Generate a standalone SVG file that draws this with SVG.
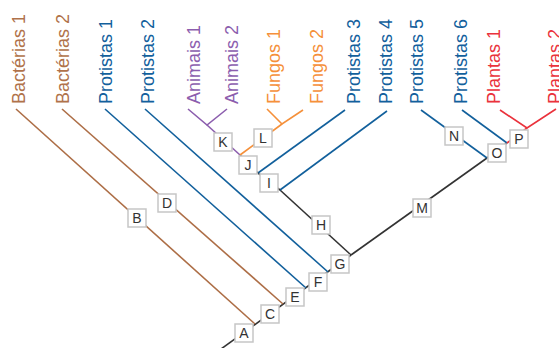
<svg xmlns="http://www.w3.org/2000/svg" width="559" height="348" viewBox="0 0 559 348">
  <style>
    .lbl { font-family: "Liberation Sans", Arial, sans-serif; font-size: 18px; }
    .bac { fill: #b0724a; }
    .pro { fill: #12609c; }
    .ani { fill: #8c5eae; }
    .fun { fill: #f5903a; }
    .pla { fill: #ea323c; }
    .e { fill: none; stroke-width: 1.6; stroke-linecap: butt; }
    .k { stroke: #333333; }
    .b { stroke: #ad6e46; }
    .p { stroke: #12609c; }
    .a { stroke: #8c5eae; }
    .f { stroke: #f5903a; }
    .r { stroke: #ea323c; }
    .node rect { fill: #ffffff; stroke: #c6c6c6; stroke-width: 1.5; }
    .node text { font-family: "Liberation Sans", Arial, sans-serif; font-size: 14px; fill: #333333; text-anchor: middle; }
  </style>
  <rect width="559" height="348" fill="#ffffff"/>

  <!-- taxon labels, written bottom-to-top -->
  <g id="taxa" class="lbl">
    <text class="bac" transform="translate(25,104) rotate(-90)">Bactérias 1</text>
    <text class="bac" transform="translate(69,104) rotate(-90)">Bactérias 2</text>
    <text class="pro" transform="translate(112,104) rotate(-90)">Protistas 1</text>
    <text class="pro" transform="translate(154,104) rotate(-90)">Protistas 2</text>
    <text class="ani" transform="translate(200,104) rotate(-90)">Animais 1</text>
    <text class="ani" transform="translate(238,104) rotate(-90)">Animais 2</text>
    <text class="fun" transform="translate(280,104) rotate(-90)">Fungos 1</text>
    <text class="fun" transform="translate(323,104) rotate(-90)">Fungos 2</text>
    <text class="pro" transform="translate(360,104) rotate(-90)">Protistas 3</text>
    <text class="pro" transform="translate(392,104) rotate(-90)">Protistas 4</text>
    <text class="pro" transform="translate(423,104) rotate(-90)">Protistas 5</text>
    <text class="pro" transform="translate(467,104) rotate(-90)">Protistas 6</text>
    <text class="pla" transform="translate(500,104) rotate(-90)">Plantas 1</text>
    <text class="pla" transform="translate(561,104) rotate(-90)">Plantas 2</text>
  </g>

  <!-- branches of the tree -->
  <g id="connectors" class="e">
    <line class="e k" x1="221" y1="349" x2="351" y2="255"/>
    <line class="e b" x1="16" y1="109" x2="255" y2="324"/>
    <line class="e b" x1="62" y1="109" x2="283" y2="304"/>
    <line class="e p" x1="105" y1="109" x2="306" y2="288"/>
    <line class="e p" x1="145" y1="109" x2="328" y2="272"/>
    <line class="e k" x1="351" y1="255" x2="280" y2="190"/>
    <line class="e p" x1="280" y1="190" x2="387" y2="111"/>
    <line class="e k" x1="280" y1="190" x2="258" y2="173"/>
    <line class="e p" x1="258" y1="173" x2="345" y2="110"/>
    <line class="e k" x1="258" y1="173" x2="240" y2="155"/>
    <line class="e a" x1="240" y1="155" x2="207" y2="125"/>
    <polyline class="e a" points="188,109 207,125 227,109"/>
    <line class="e f" x1="240" y1="155" x2="282" y2="124"/>
    <polyline class="e f" points="267,109 282,124 303,110"/>
    <line class="e k" x1="351" y1="255" x2="487" y2="158"/>
    <line class="e p" x1="421" y1="110" x2="487" y2="158"/>
    <line class="e k" x1="487" y1="158" x2="507" y2="143"/>
    <line class="e p" x1="462" y1="110" x2="507" y2="143"/>
    <line class="e r" x1="507" y1="143" x2="527" y2="128"/>
    <polyline class="e r" points="500,110 527,128 556,109"/>
  </g>

  <!-- clade markers -->
  <g id="node-A" class="node"><rect x="235" y="324" width="18" height="18"/><text x="244" y="338">A</text></g>
  <g id="node-B" class="node"><rect x="128" y="209" width="18" height="18"/><text x="137" y="223">B</text></g>
  <g id="node-C" class="node"><rect x="261" y="305" width="18" height="18"/><text x="270" y="319">C</text></g>
  <g id="node-D" class="node"><rect x="158" y="194" width="18" height="18"/><text x="167" y="208">D</text></g>
  <g id="node-E" class="node"><rect x="286" y="288" width="18" height="18"/><text x="295" y="302">E</text></g>
  <g id="node-F" class="node"><rect x="309" y="273" width="18" height="18"/><text x="318" y="287">F</text></g>
  <g id="node-G" class="node"><rect x="331" y="255" width="18" height="18"/><text x="340" y="269">G</text></g>
  <g id="node-H" class="node"><rect x="312" y="216" width="18" height="18"/><text x="321" y="230">H</text></g>
  <g id="node-I" class="node"><rect x="260" y="174" width="18" height="18"/><text x="269" y="188">I</text></g>
  <g id="node-J" class="node"><rect x="239" y="156" width="18" height="18"/><text x="248" y="170">J</text></g>
  <g id="node-K" class="node"><rect x="214" y="133" width="18" height="18"/><text x="223" y="147">K</text></g>
  <g id="node-L" class="node"><rect x="254" y="129" width="18" height="18"/><text x="263" y="143">L</text></g>
  <g id="node-M" class="node"><rect x="413" y="199" width="18" height="18"/><text x="422" y="213">M</text></g>
  <g id="node-N" class="node"><rect x="445" y="127" width="18" height="18"/><text x="454" y="141">N</text></g>
  <g id="node-O" class="node"><rect x="488" y="144" width="18" height="18"/><text x="497" y="158">O</text></g>
  <g id="node-P" class="node"><rect x="510" y="130" width="18" height="18"/><text x="519" y="144">P</text></g>
</svg>
